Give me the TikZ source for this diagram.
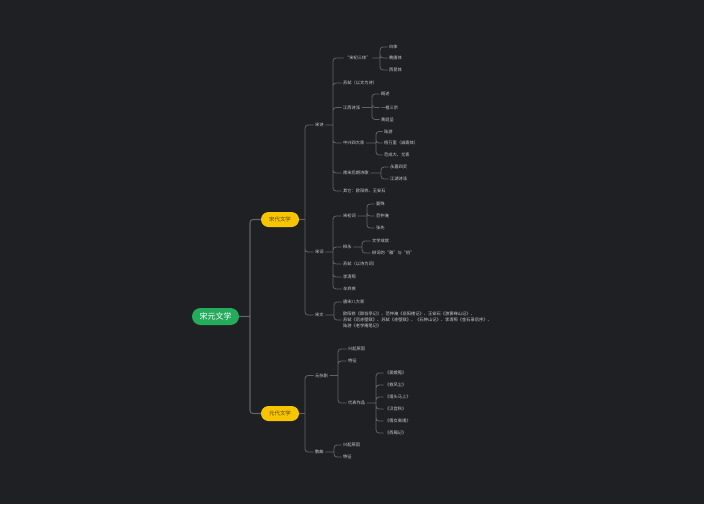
\documentclass[tikz,border=0pt]{standalone}
\usepackage{fontspec}
\newfontfamily\cjk{Noto Sans CJK SC}
\usetikzlibrary{positioning}
\definecolor{bgdark}{RGB}{30,32,35}
\definecolor{leafgray}{RGB}{205,205,205}
\definecolor{linegray}{RGB}{98,98,98}
\definecolor{rootgreen}{RGB}{36,172,92}
\definecolor{erayellow}{RGB}{247,196,0}

\begin{document}
\begin{tikzpicture}[x=1pt, y=-1pt,
  rootbox/.style={fill=rootgreen, rounded corners=8.5pt, minimum width=47pt,
                  minimum height=17pt, inner sep=0pt, text=white,
                  font=\cjk\fontsize{8}{9}\selectfont},
  erabox/.style={fill=erayellow, rounded corners=7.5pt, minimum width=38pt,
                 minimum height=15pt, inner sep=0pt, text=black!65!erayellow,
                 font=\cjk\fontsize{5.4}{6}\selectfont},
  leaf/.style={anchor=west, inner sep=1.5pt, text=leafgray,
               font=\cjk\fontsize{4.25}{5}\selectfont},
  link/.style={draw=linegray, line width=0.8pt, rounded corners=3pt},
  trunk/.style={link, line width=1.1pt}
]
\fill[bgdark] (0,0) rectangle (704,504);
\useasboundingbox (0,0) rectangle (704,504);

% root and the two eras
\node[rootbox] (songyuan) at (215.5,316.5) {宋元文学};
\node[erabox] (song) at (280,219.5) {宋代文学};
\node[erabox] (yuan) at (280,413.5) {元代文学};
\coordinate (j0) at (250,316.5);
\draw[trunk] (songyuan.east) -- (j0) (j0) |- (song.west) (j0) |- (yuan.west);

% Song
\node[leaf] (shi) at (313.5,125) {宋诗};
\node[leaf] (ci) at (313.5,252) {宋词};
\node[leaf] (wen) at (313.5,315) {宋文};
\coordinate (j1) at (305,219.5);
\draw[link] (song.east) -- (j1) (j1) |- (shi.west) (j1) |- (ci.west)
            (j1) |- (wen.west);

% Song poetry
\node[leaf] (santi) at (343.5,58) {“宋初三体”};
\node[leaf] (sushi) at (341.5,83) {苏轼（以文为诗）};
\node[leaf] (jiangxi) at (341.5,107.5) {江西诗派};
\node[leaf] (zhongxing) at (341.5,143) {中兴四大家};
\node[leaf] (nansong) at (341.5,173) {南宋后期诗歌};
\node[leaf] (qita) at (341.5,191) {其它：欧阳修、王安石};
\coordinate (j2) at (333,125);
\draw[link] (shi.east) -- (j2) (j2) |- (santi.west) (j2) |- (sushi.west)
            (j2) |- (jiangxi.west) (j2) |- (zhongxing.west)
            (j2) |- (nansong.west) (j2) |- (qita.west);

\node[leaf] (baiti) at (387.5,47) {白体};
\node[leaf] (wantang) at (387.5,58) {晚唐体};
\node[leaf] (xikun) at (387.5,70) {西昆体};
\coordinate (j3) at (380,58);
\draw[link] (santi.east) -- (j3) (j3) |- (baiti.west) (j3) |- (wantang.west)
            (j3) |- (xikun.west);

\node[leaf] (gaishu) at (379.5,94) {概述};
\node[leaf] (yizu) at (379.5,107.5) {一祖三宗};
\node[leaf] (huangtj) at (379.5,119.5) {黄庭坚};
\coordinate (j4) at (372,107.5);
\draw[link] (jiangxi.east) -- (j4) (j4) |- (gaishu.west) (j4) |- (yizu.west)
            (j4) |- (huangtj.west);

\node[leaf] (luyou) at (382.5,131.5) {陆游};
\node[leaf] (yangwl) at (382.5,143) {杨万里（诚斋体）};
\node[leaf] (fancd) at (382.5,155) {范成大、尤袤};
\coordinate (j5) at (376,143);
\draw[link] (zhongxing.east) -- (j5) (j5) |- (luyou.west) (j5) |- (yangwl.west)
            (j5) |- (fancd.west);

\node[leaf] (yongjia) at (388.5,167) {永嘉四灵};
\node[leaf] (jianghu) at (388.5,179) {江湖诗派};
\coordinate (j6) at (381,173);
\draw[link] (nansong.east) -- (j6) (j6) |- (yongjia.west) (j6) |- (jianghu.west);

% Song ci
\node[leaf] (songchu) at (341.5,216) {宋初词};
\node[leaf] (liuyong) at (341.5,247) {柳永};
\node[leaf] (suci) at (341.5,264) {苏轼（以诗为词）};
\node[leaf] (liqz) at (341.5,277) {李清照};
\node[leaf] (xinqj) at (341.5,289) {辛弃疾};
\coordinate (j7) at (333,252);
\draw[link] (ci.east) -- (j7) (j7) |- (songchu.west) (j7) |- (liuyong.west)
            (j7) |- (suci.west) (j7) |- (liqz.west) (j7) |- (xinqj.west);

\node[leaf] (yanshu) at (374.5,204) {晏殊};
\node[leaf] (fanzy) at (374.5,216) {范仲淹};
\node[leaf] (zhangxian) at (374.5,228) {张先};
\coordinate (j8) at (367,216);
\draw[link] (songchu.east) -- (j8) (j8) |- (yanshu.west) (j8) |- (fanzy.west)
            (j8) |- (zhangxian.west);

\node[leaf] (chengjiu) at (370.5,241) {文学成就};
\node[leaf] (yasu) at (370.5,253) {柳词的“雅”与“俗”};
\coordinate (j9) at (362,247);
\draw[link] (liuyong.east) -- (j9) (j9) |- (chengjiu.west) (j9) |- (yasu.west);

% Song prose
\node[leaf] (bada) at (341.5,302) {唐宋八大家};
\node[leaf, align=left, font=\cjk\fontsize{4.25}{6}\selectfont] (pianmu)
      at (341.5,320) {欧阳修《醉翁亭记》、范仲淹《岳阳楼记》、王安石《游褒禅山记》、\\
                      苏轼《后赤壁赋》、苏轼《赤壁赋》、《石钟山记》、李清照《金石录后序》、\\
                      陆游《老学庵笔记》};
\coordinate (j10) at (334,315);
\draw[link] (wen.east) -- (j10) (j10) |- (bada.west) (j10) |- (pianmu.west);

% Yuan
\node[leaf] (zaju) at (313.5,375.5) {元杂剧};
\node[leaf] (sanqu) at (313.5,452) {散曲};
\coordinate (j11) at (305,413.5);
\draw[link] (yuan.east) -- (j11) (j11) |- (zaju.west) (j11) |- (sanqu.west);

\node[leaf] (zyuanyin) at (346.5,349) {兴起原因};
\node[leaf] (ztezheng) at (346.5,361) {特征};
\node[leaf] (zuopin) at (346.5,403) {代表作品};
\coordinate (j12) at (338,375.5);
\draw[link] (zaju.east) -- (j12) (j12) |- (zyuanyin.west) (j12) |- (ztezheng.west)
            (j12) |- (zuopin.west);

\node[leaf] (douee) at (383.5,373) {《窦娥冤》};
\node[leaf] (jiufc) at (383.5,385) {《救风尘》};
\node[leaf] (qiangt) at (383.5,397) {《墙头马上》};
\node[leaf] (hangong) at (383.5,409) {《汉宫秋》};
\node[leaf] (qiannv) at (383.5,421) {《倩女离魂》};
\node[leaf] (xixiang) at (383.5,433) {《西厢记》};
\coordinate (j13) at (376,403);
\draw[link] (zuopin.east) -- (j13) (j13) |- (douee.west) (j13) |- (jiufc.west)
            (j13) |- (qiangt.west) (j13) |- (hangong.west)
            (j13) |- (qiannv.west) (j13) |- (xixiang.west);

\node[leaf] (syuanyin) at (341.5,445) {兴起原因};
\node[leaf] (stezheng) at (341.5,457) {特征};
\coordinate (j14) at (334,452);
\draw[link] (sanqu.east) -- (j14) (j14) |- (syuanyin.west) (j14) |- (stezheng.west);
\end{tikzpicture}
\end{document}
